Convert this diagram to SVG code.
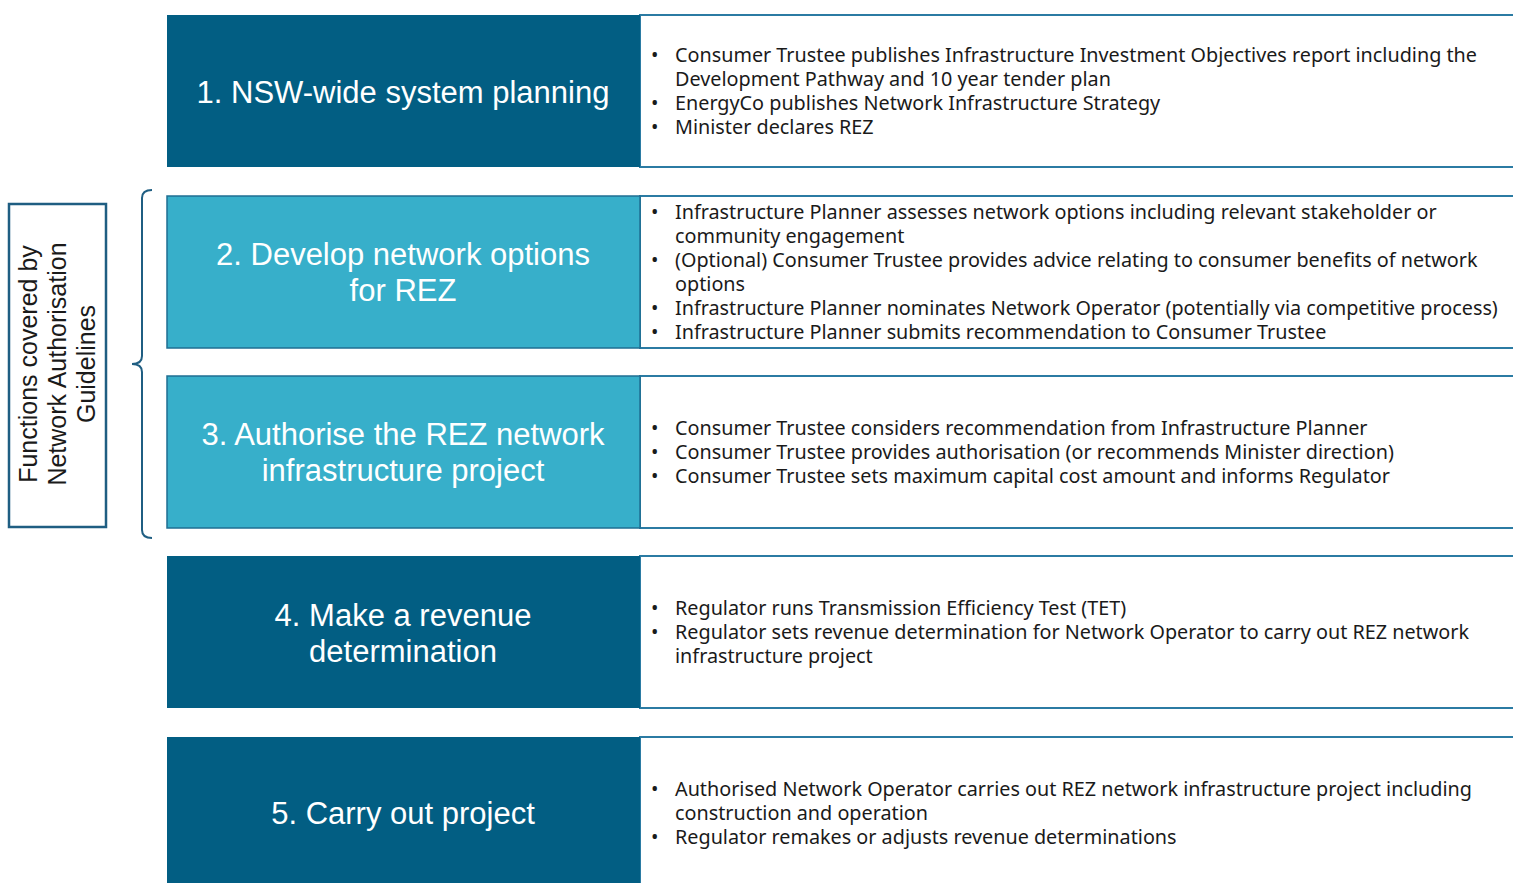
<svg xmlns="http://www.w3.org/2000/svg" width="1513" height="883" viewBox="0 0 1513 883">
  <style>
    .dark { fill: #025E83; }
    .light { fill: #37AFCA; stroke: #1F6F93; stroke-width: 1.5; }
    .panel { fill: #FFFFFF; stroke: #2B7BA3; stroke-width: 2; }
    .title { font-family: "Liberation Sans", Arial, sans-serif; font-size: 31px; fill: #FFFFFF; text-anchor: middle; }
    .item { font-family: "Noto Sans", "Liberation Sans", sans-serif; font-size: 19.8px; fill: #1A1A1A; }
    .side { font-family: "Liberation Sans", Arial, sans-serif; font-size: 25px; fill: #1A1A1A; text-anchor: middle; }
  </style>
  <rect width="1513" height="883" fill="#FFFFFF"/>

  <!-- Grouping label and brace -->
  <g id="guidelines">
    <rect x="9" y="204" width="97" height="323" fill="#FFFFFF" stroke="#1F5E82" stroke-width="2.5"/>
    <g transform="translate(57,364) rotate(-90)">
      <text class="side" x="0" y="-20">Functions covered by</text>
      <text class="side" x="0" y="9">Network Authorisation</text>
      <text class="side" x="0" y="38">Guidelines</text>
    </g>
  </g>
  <g id="connectors">
    <path d="M152,190 Q142,190 142,198 L142,356 Q142,364 132,364 Q142,364 142,372 L142,530 Q142,538 152,538" fill="none" stroke="#1F5E82" stroke-width="2"/>
  </g>

  <!-- Step 1 -->
  <g id="step1">
    <rect class="panel" x="640" y="15" width="880" height="152"/>
    <rect class="dark" x="167" y="15" width="473" height="152"/>
    <text class="title" x="403" y="103">1. NSW-wide system planning</text>
    <text class="item" x="651" y="62">•</text>
    <text class="item" x="675" y="62">Consumer Trustee publishes Infrastructure Investment Objectives report including the</text>
    <text class="item" x="675" y="86">Development Pathway and 10 year tender plan</text>
    <text class="item" x="651" y="110">•</text>
    <text class="item" x="675" y="110">EnergyCo publishes Network Infrastructure Strategy</text>
    <text class="item" x="651" y="134">•</text>
    <text class="item" x="675" y="134">Minister declares REZ</text>
  </g>

  <!-- Step 2 -->
  <g id="step2">
    <rect class="panel" x="640" y="196" width="880" height="152"/>
    <rect class="light" x="167" y="196" width="473" height="152"/>
    <text class="title" x="403" y="265">2. Develop network options</text>
    <text class="title" x="403" y="301">for REZ</text>
    <text class="item" x="651" y="219">•</text>
    <text class="item" x="675" y="219">Infrastructure Planner assesses network options including relevant stakeholder or</text>
    <text class="item" x="675" y="243">community engagement</text>
    <text class="item" x="651" y="267">•</text>
    <text class="item" x="675" y="267">(Optional) Consumer Trustee provides advice relating to consumer benefits of network</text>
    <text class="item" x="675" y="291">options</text>
    <text class="item" x="651" y="315">•</text>
    <text class="item" x="675" y="315">Infrastructure Planner nominates Network Operator (potentially via competitive process)</text>
    <text class="item" x="651" y="339">•</text>
    <text class="item" x="675" y="339">Infrastructure Planner submits recommendation to Consumer Trustee</text>
  </g>

  <!-- Step 3 -->
  <g id="step3">
    <rect class="panel" x="640" y="376" width="880" height="152"/>
    <rect class="light" x="167" y="376" width="473" height="152"/>
    <text class="title" x="403" y="445">3. Authorise the REZ network</text>
    <text class="title" x="403" y="481">infrastructure project</text>
    <text class="item" x="651" y="435">•</text>
    <text class="item" x="675" y="435">Consumer Trustee considers recommendation from Infrastructure Planner</text>
    <text class="item" x="651" y="459">•</text>
    <text class="item" x="675" y="459">Consumer Trustee provides authorisation (or recommends Minister direction)</text>
    <text class="item" x="651" y="483">•</text>
    <text class="item" x="675" y="483">Consumer Trustee sets maximum capital cost amount and informs Regulator</text>
  </g>

  <!-- Step 4 -->
  <g id="step4">
    <rect class="panel" x="640" y="556" width="880" height="152"/>
    <rect class="dark" x="167" y="556" width="473" height="152"/>
    <text class="title" x="403" y="626">4. Make a revenue</text>
    <text class="title" x="403" y="662">determination</text>
    <text class="item" x="651" y="615">•</text>
    <text class="item" x="675" y="615">Regulator runs Transmission Efficiency Test (TET)</text>
    <text class="item" x="651" y="639">•</text>
    <text class="item" x="675" y="639">Regulator sets revenue determination for Network Operator to carry out REZ network</text>
    <text class="item" x="675" y="663">infrastructure project</text>
  </g>

  <!-- Step 5 -->
  <g id="step5">
    <rect class="panel" x="640" y="737" width="880" height="160"/>
    <rect class="dark" x="167" y="737" width="473" height="160"/>
    <text class="title" x="403" y="824">5. Carry out project</text>
    <text class="item" x="651" y="796">•</text>
    <text class="item" x="675" y="796">Authorised Network Operator carries out REZ network infrastructure project including</text>
    <text class="item" x="675" y="820">construction and operation</text>
    <text class="item" x="651" y="844">•</text>
    <text class="item" x="675" y="844">Regulator remakes or adjusts revenue determinations</text>
  </g>
</svg>
